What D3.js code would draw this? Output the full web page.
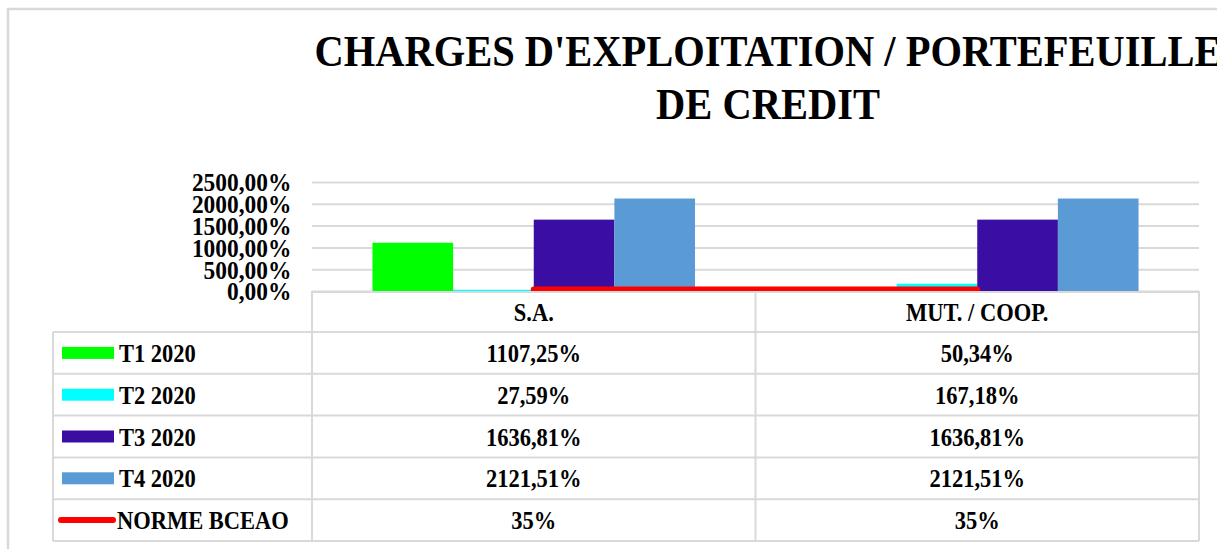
<!DOCTYPE html>
<html>
<head>
<meta charset="utf-8">
<script src="https://cdn.jsdelivr.net/npm/d3@7"></script>
<style>
    body { margin: 0; background: #fff; }
    svg { display: block; }
    svg text { font-family: "Liberation Serif", "Times New Roman", serif; font-weight: bold; }
</style>
</head>
<body>
<script>
// data
let categories = ["S.A.", "MUT. / COOP."];
let series = ["T1 2020", "T2 2020", "T3 2020", "T4 2020"];
let values = [
    [1107.25, 50.34],
    [27.59, 167.18],
    [1636.81, 1636.81],
    [2121.51, 2121.51]
];
let normeLabel = "NORME BCEAO";
let normeValues = [35, 35];
let yTicks = [0, 500, 1000, 1500, 2000, 2500];
let titleLines = ["CHARGES D'EXPLOITATION / PORTEFEUILLE", "DE CREDIT"];

let colors = ["#00ff00", "#00ffff", "#3a0ea2", "#5b9bd5"];
let normeColor = "#ff0000";
let gridColor = "#d9d9d9";

let width = 1217,
    height = 549;

let plotLeft = 312, plotRight = 1199,
    plotTop = 182, plotBottom = 291;
let tableLeft = 53, tableTop = 292, headerBottom = 332, rowH = 41.8;
let squeeze = 0.9;   // the reference text is narrow and tall

let fr = d3.formatLocale({decimal: ",", thousands: "", grouping: [3], currency: ["", ""]});
let fmt2 = function(v){ return fr.format(".2f")(v) + "%"; };
let fmt0 = function(v){ return fr.format(".0f")(v) + "%"; };

let svg = d3.select("body")
    .append("svg")
    .attr("width", width)
    .attr("height", height);

function label(g, x, y, str, size, anchor){
    return g.append("text")
        .attr("transform", "translate(" + x + "," + y + ") scale(" + squeeze + ",1)")
        .attr("dy", "0.36em")
        .attr("text-anchor", anchor || "start")
        .attr("font-size", size)
        .attr("fill", "#000")
        .text(str);
}

// outer frame
svg.append("path")
    .attr("d", "M8,549 V9 H1217")
    .attr("fill", "none")
    .attr("stroke", gridColor)
    .attr("stroke-width", 2.5);

/* ------- TITLE -------*/
let gt = svg.append("g");
titleLines.forEach(function(t, i){
    label(gt, 768, 50 + i * 53, t, 45, "middle");
});

let x0 = d3.scaleBand()
    .domain(categories)
    .range([plotLeft, plotRight])
    .padding(0);

let x1 = d3.scaleBand()
    .domain(series)
    .range([0, x0.bandwidth()])
    .paddingInner(0)
    .paddingOuter(0.75);

let y = d3.scaleLinear()
    .domain([0, 2500])
    .range([plotBottom, plotTop]);

/* ------- GRID + Y AXIS -------*/
let yAxis = d3.axisLeft(y)
    .tickValues(yTicks)
    .tickSize(-(plotRight - plotLeft))
    .tickPadding(23)
    .tickFormat(fmt2);

let gy = svg.append("g")
    .attr("transform", "translate(" + plotLeft + ",0)")
    .call(yAxis);
gy.select(".domain").remove();
gy.selectAll(".tick line")
    .attr("stroke", gridColor)
    .attr("stroke-width", 2);
gy.selectAll(".tick text")
    .attr("font-size", 26)
    .attr("fill", "#000")
    .attr("dy", "0.34em")
    .attr("transform", "scale(" + squeeze + ",1)");

/* ------- BARS -------*/
let barData = [];
series.forEach(function(s, i){
    categories.forEach(function(c, j){
        barData.push({series: s, cat: c, value: values[i][j], color: colors[i]});
    });
});

svg.append("g")
    .selectAll("rect")
    .data(barData)
    .enter()
    .append("rect")
    .attr("x", function(d){ return x0(d.cat) + x1(d.series); })
    .attr("y", function(d){ return y(d.value); })
    .attr("width", x1.bandwidth())
    .attr("height", function(d){ return y(0) - y(d.value); })
    .attr("fill", function(d){ return d.color; });

/* ------- NORME LINE -------*/
let line = d3.line()
    .x(function(d, i){ return x0(categories[i]) + x0.bandwidth() / 2; })
    .y(function(d){ return y(d); });

svg.append("path")
    .datum(normeValues)
    .attr("d", line)
    .attr("fill", "none")
    .attr("stroke", normeColor)
    .attr("stroke-width", 6)
    .attr("stroke-linecap", "round");

/* ------- DATA TABLE -------*/
let table = svg.append("g")
    .attr("fill", "none")
    .attr("stroke", gridColor)
    .attr("stroke-width", 2);

let nRows = series.length + 1;
let tableBottom = headerBottom + nRows * rowH;

// header row box
table.append("path")
    .attr("d", "M" + plotLeft + "," + headerBottom + " V" + tableTop + " H" + plotRight + " V" + headerBottom);
// row lines
d3.range(nRows + 1).forEach(function(i){
    let yy = headerBottom + i * rowH;
    table.append("line")
        .attr("x1", tableLeft).attr("x2", plotRight)
        .attr("y1", yy).attr("y2", yy);
});
// column lines
[tableLeft, plotLeft, x0(categories[1]), plotRight].forEach(function(xx){
    table.append("line")
        .attr("x1", xx).attr("x2", xx)
        .attr("y1", xx === tableLeft ? headerBottom : tableTop)
        .attr("y2", tableBottom);
});

let txt = svg.append("g");

categories.forEach(function(c){
    label(txt, x0(c) + x0.bandwidth() / 2, (tableTop + headerBottom) / 2, c, 25, "middle");
});

let rows = series.map(function(s, i){
    return {label: s, vals: values[i].map(fmt2), color: colors[i], kind: "bar"};
});
rows.push({label: normeLabel, vals: normeValues.map(fmt0), color: normeColor, kind: "line"});

rows.forEach(function(r, i){
    let cy = headerBottom + i * rowH + rowH / 2;
    if(r.kind === "bar"){
        svg.append("rect")
            .attr("x", 62).attr("y", cy - 6)
            .attr("width", 52).attr("height", 12)
            .attr("fill", r.color);
    }
    else{
        svg.append("line")
            .attr("x1", 61).attr("x2", 113)
            .attr("y1", cy).attr("y2", cy)
            .attr("stroke", r.color)
            .attr("stroke-width", 6)
            .attr("stroke-linecap", "round");
    }
    label(txt, r.kind === "bar" ? 119 : 117, cy, r.label, 25);
    r.vals.forEach(function(v, j){
        label(txt, x0(categories[j]) + x0.bandwidth() / 2, cy, v, 25, "middle");
    });
});
</script>
</body>
</html>
